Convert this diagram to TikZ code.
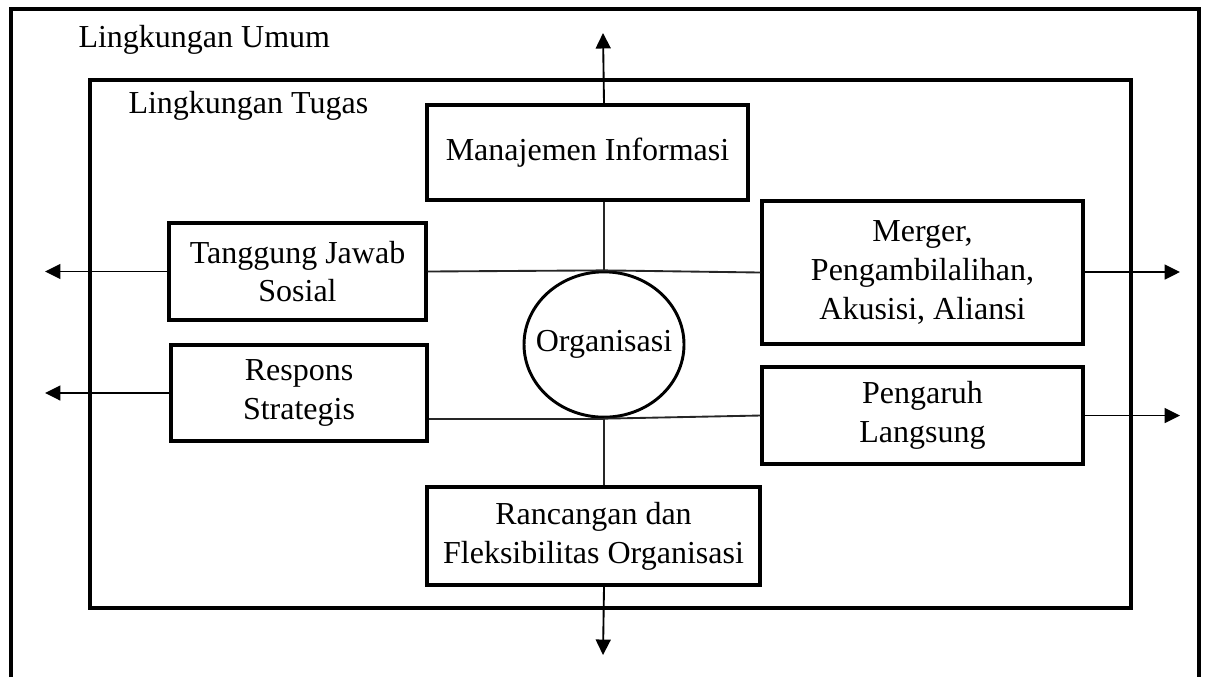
\documentclass[tikz,border=0pt]{standalone}
\usepackage{fontspec}
\setmainfont{Liberation Serif}
\usetikzlibrary{positioning, arrows.meta, shapes.geometric}
\tikzset{
    factbox/.style={rectangle, draw=black, line width=1.2pt, fill=white, align=center, font=\fontsize{12}{14.5}\selectfont, inner sep=2pt},
    orgstyle/.style={ellipse, draw=black, line width=1.1pt, fill=white, minimum width=60pt, minimum height=54.5pt, inner sep=0pt, font=\fontsize{12}{14}\selectfont},
    lnk/.style={line width=0.7pt, color=black!85},
    arr/.style={-{Triangle[length=5.8pt, width=5.6pt]}, line width=0.7pt},
    frame/.style={line width=1.2pt},
    envlbl/.style={anchor=west, inner sep=0pt, font=\fontsize{12}{14}\selectfont}
}
\begin{document}
\begin{tikzpicture}[x=0.375pt, y=-0.375pt]
    \useasboundingbox (0,0) rectangle (1210,677);
    % environments
    \draw[frame] (11,677) -- (11,9) -- (1199,9) -- (1199,677);
    \draw[frame] (90,80) rectangle (1131,608);
    \node[envlbl] (umum) at (78,40) {Lingkungan Umum};
    \node[envlbl] (tugas) at (128,106) {Lingkungan Tugas};
    % organisation and factors
    \node[orgstyle] (org) at (604,344.5) {\makebox[0pt]{Organisasi}};
    \node[factbox, minimum width=120.4pt, minimum height=35.6pt] (mi) at (587.5,152.5) {Manajemen Informasi};
    \node[factbox, minimum width=96.4pt, minimum height=36.4pt] (tjs) at (297.5,271.5) {Tanggung Jawab\\Sosial};
    \node[factbox, minimum width=96pt, minimum height=36pt] (res) at (299,393) {Respons\\Strategis};
    \node[factbox, minimum width=120.4pt, minimum height=53.6pt] (mer) at (922.5,272.5) {Merger,\\Pengambilalihan,\\Akusisi, Aliansi};
    \node[factbox, minimum width=120.4pt, minimum height=36.4pt] (peng) at (922.5,415.5) {Pengaruh\\Langsung};
    \node[factbox, minimum width=124.9pt, minimum height=36.8pt] (rf) at (593.5,536) {Rancangan dan\\Fleksibilitas Organisasi};
    % free ends
    \coordinate (upend) at (603,33);
    \coordinate (dnend) at (603,655);
    \coordinate (tjsend) at (45,271.5);
    \coordinate (resend) at (45,393);
    \coordinate (merend) at (1180,272);
    \coordinate (pengend) at (1180,415.5);
    % links to the organisation
    \draw[lnk] (mi.south -| org.north) -- (org.north);
    \draw[lnk] (tjs.east) -- (org.north);
    \draw[lnk] (org.north) -- (mer.west);
    \draw[lnk] (org.south) -- (org.south -| res.east);
    \draw[lnk] (org.south) -- (peng.west);
    \draw[lnk] (org.south) -- (org.south |- rf.north);
    % outward arrows
    \draw[arr] (mi.north -| org.north) -- (upend);
    \draw[arr] (rf.south -| org.south) -- (dnend);
    \draw[arr] (tjs.west) -- (tjsend);
    \draw[arr] (res.west) -- (resend);
    \draw[arr] (mer.east |- merend) -- (merend);
    \draw[arr] (peng.east) -- (pengend);
\end{tikzpicture}
\end{document}
